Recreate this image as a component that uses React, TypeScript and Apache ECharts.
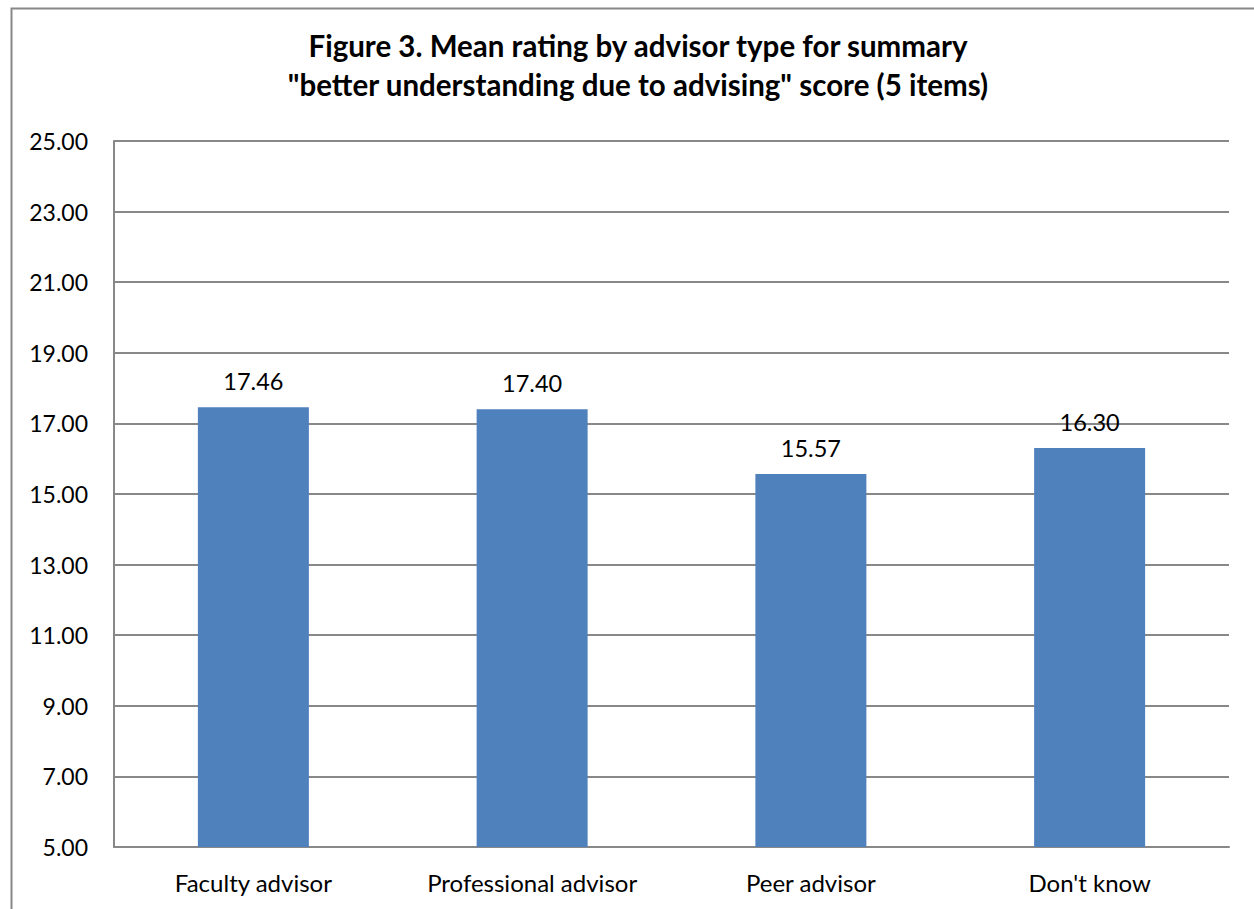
import React, { useEffect, useRef } from "react";
import * as echarts from "echarts";

const categories = ["Faculty advisor", "Professional advisor", "Peer advisor", "Don't know"];
const meanRatings = [17.46, 17.4, 15.57, 16.3];
const titleLines = [
  "Figure 3. Mean rating by advisor type for summary",
  "\"better understanding due to advising\" score (5 items)",
];

export default function App() {
  const ref = useRef<HTMLDivElement>(null);
  useEffect(() => {
    if (!ref.current) return;
    const chart = echarts.init(ref.current, null, { renderer: "svg" });
    const font = "Lato, 'Open Sans', sans-serif";
    chart.setOption({
      animation: false,
      backgroundColor: "#ffffff",
      title: {
        text: titleLines.join("\n"),
        left: 633,
        textAlign: "center",
        top: 21,
        textStyle: {
          fontFamily: font,
          fontWeight: "bold",
          fontSize: 29.5,
          lineHeight: 39,
          color: "#000000",
        },
      },
      graphic: [
        {
          type: "rect",
          shape: { x: 11.5, y: 8.5, width: 1300, height: 1000 },
          style: { fill: "none", stroke: "#888888", lineWidth: 2 },
          silent: true,
          z: -1,
        },
      ],
      grid: { left: 114, top: 141, right: 25, bottom: 62 },
      xAxis: {
        type: "category",
        data: categories,
        axisLine: { show: true, lineStyle: { color: "#888888", width: 2 } },
        axisTick: { show: false },
        axisLabel: {
          fontFamily: font,
          fontSize: 24,
          color: "#000000",
          margin: 23,
        },
      },
      yAxis: {
        type: "value",
        min: 5,
        max: 25,
        interval: 2,
        axisLine: { show: true, lineStyle: { color: "#888888", width: 2 } },
        axisTick: { show: false },
        splitLine: { lineStyle: { color: "#888888", width: 2 } },
        axisLabel: {
          fontFamily: font,
          fontSize: 23,
          color: "#000000",
          margin: 26,
          formatter: (v: number) => v.toFixed(2),
        },
      },
      series: [
        {
          type: "bar",
          data: meanRatings,
          barWidth: 111,
          itemStyle: { color: "#4F81BD" },
          label: {
            show: true,
            position: "top",
            distance: 14,
            fontFamily: font,
            fontSize: 23.5,
            color: "#000000",
            formatter: (p: any) => Number(p.value).toFixed(2),
          },
        },
      ],
    });
    return () => chart.dispose();
  }, []);
  return (
    <div
      ref={ref}
      style={{ position: "absolute", left: 0, top: 0, width: 1254, height: 909 }}
    />
  );
}
